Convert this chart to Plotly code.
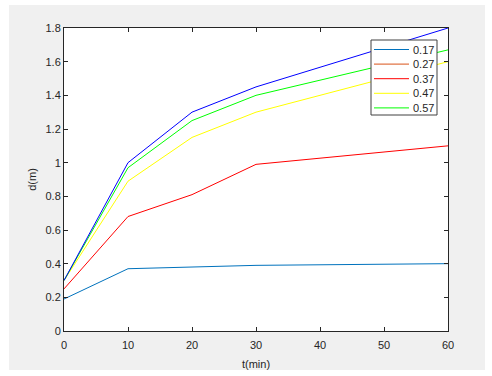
import plotly.graph_objects as go

t = [0, 10, 20, 30, 60]
d_017 = [0.19, 0.37, 0.38, 0.39, 0.40]
d_037 = [0.25, 0.68, 0.81, 0.99, 1.10]
d_047 = [0.30, 0.89, 1.15, 1.30, 1.60]
d_057 = [0.30, 0.97, 1.25, 1.40, 1.67]
d_top = [0.30, 1.00, 1.30, 1.45, 1.80]
legend_names = ["0.17", "0.27", "0.37", "0.47", "0.57"]
legend_colors = ["#0072BD", "#D95319", "#ff0000", "#ffff00", "#00ff00"]
x_ticks = [0, 10, 20, 30, 40, 50, 60]
y_ticks = [0, 0.2, 0.4, 0.6, 0.8, 1.0, 1.2, 1.4, 1.6, 1.8]
y_tick_text = ["0", "0.2", "0.4", "0.6", "0.8", "1", "1.2", "1.4", "1.6", "1.8"]

fig = go.Figure()
series = [(d_017, "#0072BD"), (d_037, "#ff0000"), (d_047, "#ffff00"),
          (d_057, "#00ff00"), (d_top, "#0000ff")]
for ys, col in series:
    fig.add_trace(go.Scatter(x=t, y=ys, mode="lines", showlegend=False,
                             hoverinfo="skip", line=dict(color=col, width=1)))

L, R, T, B = 64, 44, 28, 45
W, H = 492, 376
pw, ph = W - L - R, H - T - B

def px2x(px):
    return (px - L) / pw

def px2y(py):
    return (H - B - py) / ph

# white frame around the grey figure area
for (a, b, c, d) in [(0, 9, 0, H), (485, W, 0, H), (0, W, 0, 5), (0, W, 370, H)]:
    fig.add_shape(type="rect", xref="paper", yref="paper", layer="below",
                  x0=px2x(a), x1=px2x(b), y0=px2y(d), y1=px2y(c),
                  fillcolor="white", line=dict(width=0))

# MATLAB-style legend box
fig.add_shape(type="rect", xref="paper", yref="paper", layer="above",
              x0=px2x(371), x1=px2x(437), y0=px2y(115), y1=px2y(40),
              fillcolor="white", line=dict(color="#404040", width=1))
row0, rowstep = 49.5, 14.6
for i, (name, col) in enumerate(zip(legend_names, legend_colors)):
    yy = px2y(row0 + i * rowstep)
    fig.add_shape(type="line", xref="paper", yref="paper", layer="above",
                  x0=px2x(374), x1=px2x(409), y0=yy, y1=yy,
                  line=dict(color=col, width=1))
    fig.add_annotation(xref="paper", yref="paper", x=px2x(411), y=yy,
                       xanchor="left", yanchor="middle", text=name, showarrow=False,
                       font=dict(size=11, color="#262626"))

axis_common = dict(showgrid=False, zeroline=False, showline=True, mirror="ticks",
                   linecolor="#262626", linewidth=1, ticks="inside", ticklen=4,
                   tickcolor="#262626", tickfont=dict(size=11, color="#262626"),
                   automargin=False)

fig.update_layout(
    width=W, height=H,
    margin=dict(l=L, r=R, t=T, b=B),
    paper_bgcolor="#f0f0f0", plot_bgcolor="white",
    showlegend=False,
    font=dict(family="Liberation Sans, Arial, sans-serif", size=11, color="#262626"),
    xaxis=dict(range=[0, 60], tickvals=x_ticks, ticklabelstandoff=4,
               title=dict(text="t(min)", standoff=10, font=dict(size=11)),
               **axis_common),
    yaxis=dict(range=[0, 1.8], tickvals=y_ticks, ticktext=y_tick_text,
               title=dict(text="d(m)", standoff=6, font=dict(size=11)), **axis_common),
)

fig.write_html("out.html", config={"displayModeBar": False},
               post_script="document.body.style.margin='0';")
